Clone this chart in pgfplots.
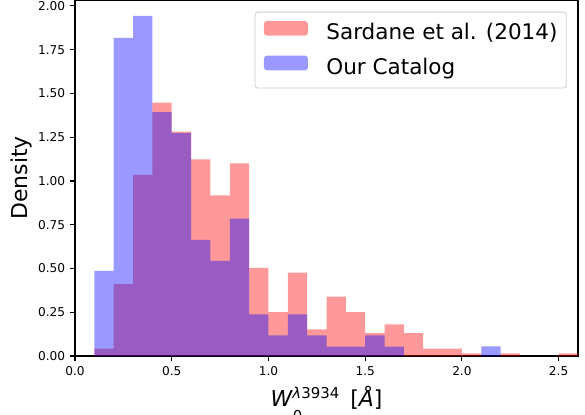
\documentclass[border=0pt]{standalone}
\usepackage{fontspec}
\setmainfont{DejaVu Sans}
\usepackage{pgfplots}
\pgfplotsset{compat=1.18}
\usepackage{pgfplotstable}

% Normalised histograms (density), bins of width 0.1.
% Each row gives the left edge of a bin and its density; the last row only
% closes the final bin (its value is not drawn).
\pgfplotstableread{
edge dens
0.1 0.042
0.2 0.410
0.3 1.035
0.4 1.447
0.5 1.282
0.6 1.124
0.7 0.918
0.8 1.101
0.9 0.503
1.0 0.250
1.1 0.476
1.2 0.152
1.3 0.339
1.4 0.250
1.5 0.130
1.6 0.181
1.7 0.131
1.8 0.042
1.9 0.042
2.0 0.015
2.1 0.000
2.2 0.015
2.3 0.000
2.4 0.000
2.5 0.015
2.6 0.000
}\sardane

\pgfplotstableread{
edge dens
0.1 0.486
0.2 1.817
0.3 1.943
0.4 1.394
0.5 1.274
0.6 0.663
0.7 0.543
0.8 0.785
0.9 0.238
1.0 0.118
1.1 0.238
1.2 0.118
1.3 0.053
1.4 0.053
1.5 0.118
1.6 0.053
1.7 0.000
1.8 0.000
1.9 0.000
2.0 0.000
2.1 0.055
2.2 0.000
}\ourcat

\newcommand{\scrfont}{\fontsize{15}{16}\selectfont}
\newcommand{\wlabel}{%
  \textit{W}%
  \makebox[0pt][l]{\raisebox{-15bp}{\scrfont 0}}%
  \raisebox{8.2bp}{\scrfont\hspace{-0.5bp}\textit{λ}3934}%
  \hspace{11bp}[\textit{Å}]}

\begin{document}
\begin{tikzpicture}
\path[use as bounding box] (-75bp,-59bp) rectangle (510bp,356bp);
\begin{axis}[
  at={(0,0)}, anchor=south west,
  scale only axis, width=503bp, height=356bp,
  xmin=0, xmax=2.6, ymin=0, ymax=2.034,
  xtick={0,0.5,1,1.5,2,2.5},
  ytick={0,0.25,0.5,0.75,1,1.25,1.5,1.75,2},
  tick align=outside, tick pos=left,
  major tick length=4.8bp,
  every tick/.style={black, line width=1.1bp},
  axis line style={line width=1.1bp},
  /pgf/number format/assume math mode=true,
  tick label style={font=\fontsize{12.2}{14}\selectfont, inner sep=0pt},
  xticklabel style={/pgf/number format/fixed, /pgf/number format/fixed zerofill, /pgf/number format/precision=1},
  yticklabel style={/pgf/number format/fixed, /pgf/number format/fixed zerofill, /pgf/number format/precision=2},
  xticklabel shift=5.2bp, yticklabel shift=4.9bp,
  xlabel={\wlabel},
  xlabel style={font=\fontsize{22}{26}\selectfont, inner sep=0pt, anchor=base, at={(axis description cs:0.5,-0.1419)}},
  ylabel={Density},
  ylabel style={font=\fontsize{22}{26}\selectfont, inner sep=0pt, anchor=center, at={(axis description cs:-0.1064,0.5)}},
  legend cell align=left,
  legend style={
    at={(axis description cs:0.9775,0.967)}, anchor=north east,
    draw=black!20, line width=0.8bp, rounded corners=3bp, fill=white,
    font=\fontsize{21.6}{26}\selectfont,
    inner xsep=8.8bp, inner ysep=8.8bp,
    row sep=11bp, column sep=18.5bp,
    nodes={inner sep=0pt, text height=16.3bp, text depth=5.2bp},
  },
  legend image code/.code={\fill[#1, draw=none] (0bp,-1.8bp) rectangle (44bp,12.9bp);},
]
\addplot[ybar interval, fill=red, fill opacity=0.4, draw=none] table[x=edge, y=dens] {\sardane};
\addlegendentry{Sardane et al. (2014)}
\addplot[ybar interval, fill=blue, fill opacity=0.4, draw=none] table[x=edge, y=dens] {\ourcat};
\addlegendentry{Our Catalog}
\end{axis}
\end{tikzpicture}
\end{document}
